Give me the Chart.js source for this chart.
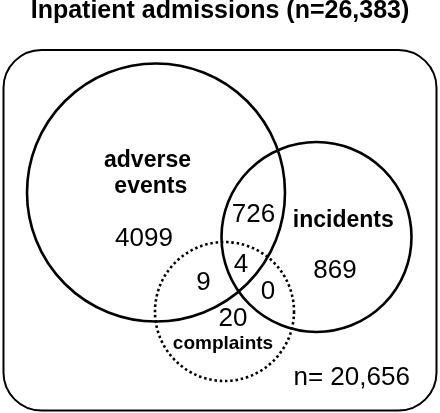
<!DOCTYPE html>
<html>
<head>
<meta charset="utf-8">
<script src="https://cdn.jsdelivr.net/npm/chart.js@4.4.1/dist/chart.umd.min.js"></script>
<style>
  html, body { margin: 0; padding: 0; background: #fff; }
  #wrap { width: 440px; height: 413px; }
</style>
</head>
<body>
<div id="wrap"><canvas id="canvas"></canvas></div>
<script>
// data
var totalAdmissions = '26,383';
var noEventCount = '20,656';
var setNames = ['adverse events', 'incidents', 'complaints'];
var regionNames = ['adverse only', 'adverse+incidents', 'incidents only', 'all three', 'adverse+complaints', 'incidents+complaints', 'complaints only'];
var regionCounts = [4099, 726, 869, 4, 9, 0, 20];

// layout (pixel units of the picture)
var circles = [
	{x: 156, y: 192.5, r: 129, dash: []},
	{x: 316.5, y: 237, r: 95, dash: []},
	{x: 224.5, y: 311.5, r: 69.5, dash: [2.5, 2.8]}
];
var regionSpots = [[144, 246], [253.5, 221.7], [335, 278.3], [241, 271.7], [203.5, 290], [268, 299], [233, 326]];
var setSpots = [
	[[147.5, 166.7, 'adverse'], [150.8, 193.3, 'events']],
	[[343.3, 226.7, 'incidents']],
	[[223, 349, 'complaints']]
];
var setFonts = ['bold 23px "Liberation Sans", Arial, sans-serif', 'bold 23px "Liberation Sans", Arial, sans-serif', 'bold 19px "Liberation Sans", Arial, sans-serif'];
var numFont = '26px "Liberation Sans", Arial, sans-serif';

var datasets = circles.map(function(c, i) {
	return {
		label: setNames[i],
		data: [{x: c.x, y: c.y, r: c.r}],
		backgroundColor: 'rgba(0,0,0,0)',
		borderColor: '#000',
		borderWidth: 2.6,
		clip: false
	};
});
// bubble points can't be dashed, so the complaints circle is drawn by hand over a hidden bubble
datasets[2].borderColor = 'rgba(0,0,0,0)';

var vennText = {
	id: 'vennText',
	beforeDatasetsDraw: function(chart) {
		var ctx = chart.ctx, xs = chart.scales.x, ys = chart.scales.y;
		ctx.save();
		ctx.lineWidth = 2;
		ctx.strokeStyle = '#000';
		ctx.beginPath();
		var x0 = xs.getPixelForValue(3.5), x1 = xs.getPixelForValue(436.5);
		var y0 = ys.getPixelForValue(50), y1 = ys.getPixelForValue(410.5);
		ctx.roundRect(x0, y0, x1 - x0, y1 - y0, 38);
		ctx.stroke();
		ctx.restore();
	},
	afterDatasetsDraw: function(chart) {
		var ctx = chart.ctx, xs = chart.scales.x, ys = chart.scales.y;
		ctx.save();
		var pt = chart.getDatasetMeta(2).data[0];
		ctx.strokeStyle = '#000';
		ctx.lineWidth = 2.6;
		ctx.setLineDash(circles[2].dash);
		ctx.beginPath();
		ctx.arc(pt.x, pt.y, circles[2].r, 0, Math.PI * 2);
		ctx.stroke();
		ctx.setLineDash([]);

		ctx.fillStyle = '#000';
		ctx.textAlign = 'center';
		ctx.textBaseline = 'alphabetic';
		setSpots.forEach(function(lines, i) {
			ctx.font = setFonts[i];
			lines.forEach(function(l) {
				ctx.fillText(l[2], xs.getPixelForValue(l[0]), ys.getPixelForValue(l[1]));
			});
		});
		ctx.font = numFont;
		regionCounts.forEach(function(v, i) {
			ctx.fillText(String(v), xs.getPixelForValue(regionSpots[i][0]), ys.getPixelForValue(regionSpots[i][1]));
		});
		ctx.fillText('n= ' + noEventCount, xs.getPixelForValue(351.7), ys.getPixelForValue(385));
		ctx.restore();
	}
};

var ctx = document.getElementById('canvas').getContext('2d');
window.myVenn = new Chart(ctx, {
	type: 'bubble',
	data: {datasets: datasets},
	options: {
		responsive: true,
		maintainAspectRatio: false,
		animation: false,
		events: [],
		layout: {padding: 0, autoPadding: false},
		scales: {
			x: {type: 'linear', min: 0, max: 440, display: false},
			y: {type: 'linear', min: 42, max: 413, reverse: true, display: false}
		},
		plugins: {
			legend: {display: false},
			tooltip: {enabled: false},
			title: {
				display: true,
				text: 'Inpatient admissions (n=' + totalAdmissions + ')',
				color: '#000',
				font: {family: '"Liberation Sans", Arial, sans-serif', size: 25, weight: 'bold', lineHeight: 0.85},
				padding: {top: 0, bottom: 20.75}
			}
		}
	},
	plugins: [vennText]
});
</script>
</body>
</html>
